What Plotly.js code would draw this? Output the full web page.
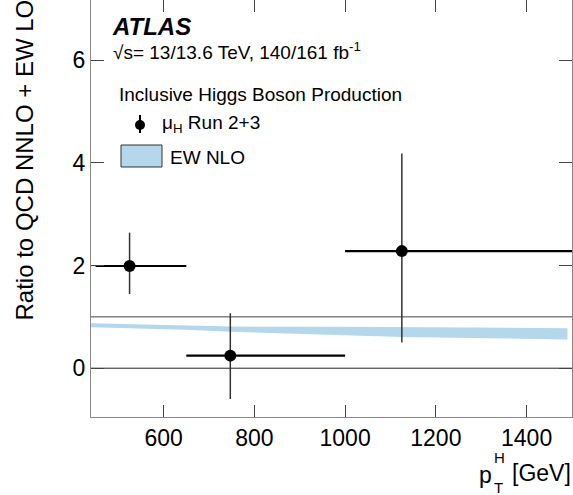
<!DOCTYPE html>
<html>
<head>
<meta charset="utf-8">
<script src="https://cdn.plot.ly/plotly-3.0.1.min.js"></script>
<style>html,body{margin:0;padding:0;background:#fff;}#chart{width:573px;height:495px;}</style>
</head>
<body>
<div id="chart"></div>
<script>
// ---- data ----
const binLow = [450, 650, 1000];
const binHigh = [650, 1000, 1700];
const xMean = [525, 747, 1125];
const mu = [1.99, 0.245, 2.28];
const muUp = [0.65, 0.825, 1.90];
const muDown = [0.545, 0.845, 1.78];

const bandX = [440, 650, 750, 1000, 1125, 1490];
const bandHi = [0.875, 0.84, 0.81, 0.805, 0.80, 0.78];
const bandLo = [0.80, 0.75, 0.71, 0.645, 0.61, 0.56];

const xTicks = [600, 800, 1000, 1200, 1400];
const yTicks = [0, 2, 4, 6];
const refLines = [0, 1];

// ---- geometry helpers (pixel -> paper) ----
const W = 573, H = 495, ML = 91, MR = 1, MT = 0, MB = 78;
const PW = W - ML - MR, PH = H - MT - MB;
const px = p => (p - ML) / PW;
const py = p => (PH + MT - p) / PH;

const FONT = 'Liberation Sans, Arial, Helvetica, sans-serif';
const bandColor = 'rgb(180,215,235)';

const traces = [
  {x: bandX, y: bandLo, mode: 'lines', line: {width: 0, color: bandColor}, hoverinfo: 'skip', showlegend: false},
  {x: bandX, y: bandHi, mode: 'lines', fill: 'tonexty', fillcolor: bandColor, line: {width: 0, color: bandColor}, hoverinfo: 'skip', showlegend: false},
  {
    x: xMean, y: mu, mode: 'markers', showlegend: false,
    marker: {color: 'black', size: 12, symbol: 'circle'},
    error_x: {type: 'data', symmetric: false,
      array: xMean.map((v, i) => binHigh[i] - v),
      arrayminus: xMean.map((v, i) => v - binLow[i]),
      color: 'black', thickness: 2.2, width: 0},
    error_y: {type: 'data', symmetric: false, array: muUp, arrayminus: muDown,
      color: '#333', thickness: 1.5, width: 0}
  }
];

const shapes = refLines.map((v, i) => ({
  type: 'line', xref: 'paper', x0: 0, x1: 1, yref: 'y', y0: v, y1: v,
  line: {color: i === 0 ? '#222' : '#444', width: 1}, layer: 'below'
}));
// legend decorations
shapes.push({type: 'line', xref: 'paper', yref: 'paper', x0: px(140), x1: px(140), y0: py(115), y1: py(133), line: {color: 'black', width: 2}});
shapes.push({type: 'circle', xref: 'paper', yref: 'paper', x0: px(135), x1: px(145), y0: py(130), y1: py(120), fillcolor: 'black', line: {color: 'black', width: 0}});
shapes.push({type: 'rect', xref: 'paper', yref: 'paper', x0: px(121), x1: px(162), y0: py(167), y1: py(145), fillcolor: bandColor, line: {color: '#333', width: 1}});

const ann = (text, x, y, size, opts) => Object.assign({
  text: text, xref: 'paper', yref: 'paper', x: px(x), y: py(y),
  xanchor: 'left', yanchor: 'middle', showarrow: false,
  font: {family: FONT, size: size, color: 'black'}
}, opts || {});

const annotations = [
  ann('<b><i>ATLAS</i></b>', 110, 26.5, 24),
  ann('√s= 13/13.6 TeV, 140/161 fb<sup>-1</sup>', 111, 51, 19),
  ann('Inclusive Higgs Boson Production', 117, 94.5, 19),
  ann('μ<sub>H</sub> Run 2+3', 160, 124, 19),
  ann('EW NLO', 168, 157, 19),
  ann('Ratio to QCD NNLO + EW LO', 24, -2, 24, {xanchor: 'center', yanchor: 'top', textangle: -90}),
  ann('[GeV]', 573, 473, 23, {xanchor: 'right'}),
  ann('p', 477, 475, 23),
  ann('H', 492, 457, 15),
  ann('T', 492, 487, 15)
];

const axisBase = {
  showgrid: false, zeroline: false, showline: true, linecolor: '#888', linewidth: 1,
  mirror: 'ticks', ticks: 'inside', tickcolor: '#444', tickwidth: 1,
  tickfont: {family: FONT, size: 23, color: 'black'}, tickmode: 'array'
};

const layout = {
  width: W, height: H,
  margin: {l: ML, r: MR, t: MT, b: MB, pad: 0},
  paper_bgcolor: 'white', plot_bgcolor: 'white',
  showlegend: false,
  xaxis: Object.assign({}, axisBase, {range: [440, 1500], tickvals: xTicks, ticktext: xTicks.map(String), ticklen: 12}),
  yaxis: Object.assign({}, axisBase, {range: [-0.95, 7.17], tickvals: yTicks, ticktext: yTicks.map(String), ticklen: 13}),
  shapes: shapes,
  annotations: annotations
};

Plotly.newPlot('chart', traces, layout, {staticPlot: true, displayModeBar: false});
</script>
</body>
</html>
